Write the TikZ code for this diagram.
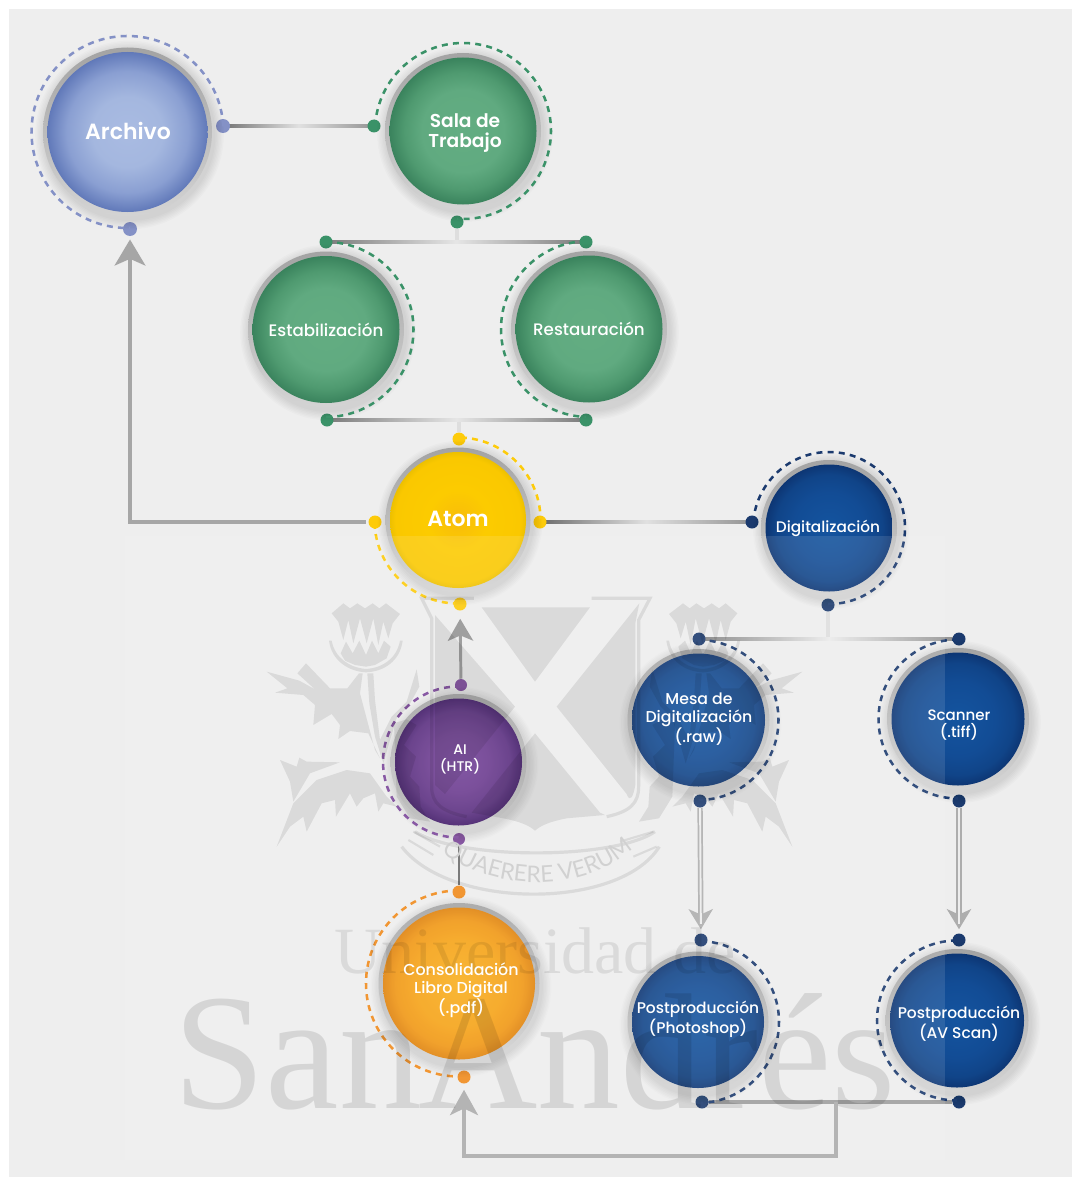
\documentclass[tikz,border=0pt]{standalone}
\usepackage{fontspec}
\setmainfont{Poppins}
\newfontfamily\pmed{Poppins Medium}
\newfontfamily\psemi{Poppins SemiBold}
\newfontfamily\serifwm{Liberation Serif}
\newfontfamily\mottof{Lato}
\usetikzlibrary{arrows.meta,calc,decorations.text}
\pgfdeclarelayer{bglayer}
\pgfdeclarelayer{connlayer}
\pgfsetlayers{bglayer,connlayer,main}
\definecolor{pagebg}{HTML}{EEEEEE}
\definecolor{archc}{HTML}{8491C6}
\definecolor{greenc}{HTML}{3A9268}
\definecolor{yelc}{HTML}{FDCB0A}
\definecolor{navyc}{HTML}{1B3A6E}
\definecolor{purc}{HTML}{7A4599}
\definecolor{orgc}{HTML}{F08A1A}
\definecolor{ga}{HTML}{A9BBE2}\definecolor{gb}{HTML}{A4B7DF}\definecolor{gc}{HTML}{8A9FD2}\definecolor{gd}{HTML}{6179B9}
\definecolor{va}{HTML}{63AD82}\definecolor{vb}{HTML}{60AA80}\definecolor{vc}{HTML}{4F9A70}\definecolor{vd}{HTML}{3A835D}
\definecolor{ya}{HTML}{F8BC0A}\definecolor{yb}{HTML}{FCCB00}\definecolor{yc}{HTML}{FAC800}\definecolor{yd}{HTML}{EDC000}
\definecolor{ba}{HTML}{14549F}\definecolor{bb}{HTML}{124C95}\definecolor{bc}{HTML}{104488}\definecolor{bd}{HTML}{0D3674}
\definecolor{pa}{HTML}{74429A}\definecolor{pb}{HTML}{6A3A8E}\definecolor{pc}{HTML}{5A2E80}\definecolor{pd}{HTML}{411A68}
\definecolor{oa}{HTML}{F9AE1C}\definecolor{ob}{HTML}{F6A316}\definecolor{oc}{HTML}{F09612}\definecolor{od}{HTML}{DF820C}
\pgfdeclareradialshading{sharch}{\pgfpoint{0bp}{0bp}}{color(0bp)=(ga);color(11bp)=(gb);color(19bp)=(gc);color(25bp)=(gd);color(50bp)=(gd)}
\pgfdeclareradialshading{shgreen}{\pgfpoint{0bp}{0bp}}{color(0bp)=(va);color(14bp)=(vb);color(20bp)=(vc);color(25bp)=(vd);color(50bp)=(vd)}
\pgfdeclareradialshading{shyel}{\pgfpoint{0bp}{0bp}}{color(0bp)=(ya);color(11bp)=(yb);color(23bp)=(yc);color(25bp)=(yd);color(50bp)=(yd)}
\pgfdeclareradialshading{shblue}{\pgfpoint{0bp}{0bp}}{color(0bp)=(ba);color(14bp)=(bb);color(21bp)=(bc);color(25bp)=(bd);color(50bp)=(bd)}
\pgfdeclareradialshading{shpur}{\pgfpoint{0bp}{0bp}}{color(0bp)=(pa);color(12bp)=(pb);color(20bp)=(pc);color(25bp)=(pd);color(50bp)=(pd)}
\pgfdeclareradialshading{shorg}{\pgfpoint{0bp}{0bp}}{color(0bp)=(oa);color(14bp)=(ob);color(21bp)=(oc);color(25bp)=(od);color(50bp)=(od)}
\tikzset{
  dotn/.style={circle,inner sep=0pt,minimum size=#1*0.75pt},
  dashline/.style={line width=1.9pt,dash pattern=on 4.5pt off 3.9pt},
  conn/.style={line width=2.5pt,color=black!38},
  stem/.style={line width=2.4pt,color=black!13},
  wm/.style={fill=black,fill opacity=.085},
  wmline/.style={black,opacity=.085},
  lbl/.style={text=white,inner sep=0pt,align=center},
}
% name, x, y, R, shading
\newcommand{\ballnode}[5]{%
  \foreach \k in {1,...,7}{\fill[black,opacity=.014] ({#2+2},{#3+3}) circle[radius={#4+\k*1.4}];}
  \shade[top color=black!36,bottom color=black!17] (#2,#3) circle[radius=#4];
  \node[circle,inner sep=0pt,minimum size=(#4-4.5)*1.5pt,shade,shading=#5] (#1) at (#2,#3) {};
}
% colour, cx, cy, r, start, end
\newcommand{\darc}[6]{\draw[dashline,color=#1] ({#2+#4*cos(#5)},{#3+#4*sin(#5)}) arc[start angle=#5,end angle=#6,radius=#4];}
% gradient bar: a, b, half-height, left, middle, right
\newcommand{\gbar}[6]{%
  \draw[conn] (#1.center) -- (#2.center);
  \shade[left color=#4,right color=#6,middle color=#5] ($(#1.center)+(0,-#3)$) rectangle ($(#2.center)+(0,#3)$);
}
\newcommand{\thistleshape}{%
  \fill[wm] (215,70)--(250,40)--(270,55)--(292,40)--(315,55)--(338,40)--(358,55)--(378,40)--(420,72)--(398,100)--(385,145)--(370,95)--(355,165)--(340,85)--(320,160)--(300,85)--(280,160)--(265,90)--(250,150)--(235,95)--cycle;
  \fill[wm] (242,190)--(258,155)--(278,190)--(298,152)--(318,195)--(336,152)--(355,190)--(372,152)--(392,170)--(380,205)--(345,225)--(318,230)--(285,225)--(255,212)--cycle;
  \fill[wm] (207,152) .. controls (215,215) and (270,245) .. (318,247) .. controls (370,245) and (420,215) .. (428,152) -- (420,152) .. controls (410,205) and (370,233) .. (318,237) .. controls (270,233) and (225,205) .. (215,152) -- cycle;
  \fill[wm] (20,245)--(118,272)--(165,298)--(112,250)--(138,220)--(210,295)--(262,295)--(297,250)--(308,250)--(300,310)--(345,480)--(360,505)--(325,430)--(270,423)--(235,447)--(240,405)--(215,372)--(160,405)--(165,345)--(130,315)--(45,308)--(82,295)--cycle;
  \fill[wm] (322,250)--(340,250)--(345,330)--(360,450)--(395,380)--(440,335)--(470,238)--(478,290)--(445,350)--(410,385)--(390,450)--(370,520)--(345,440)--(328,340)--cycle;
  \fill[wm] (60,510)--(110,530)--(118,503)--(140,515)--(240,517)--(150,550)--(100,635)--(90,575)--cycle;
  \fill[wm] (50,770)--(100,640)--(170,570)--(260,540)--(330,550)--(380,620)--(410,650)--(370,640)--(355,665)--(345,610)--(310,625)--(290,650)--(270,610)--(228,680)--(225,630)--(185,640)--(140,725)--(130,680)--(90,710)--cycle;
  \fill[wm] (402,400)--(440,388)--(470,405)--(432,465)--(468,500)--(450,560)--(478,590)--(482,650)--(510,695)--(450,685)--(410,620)--cycle;
}
\begin{document}
\begin{tikzpicture}[x=0.75pt,y=-0.75pt]
\useasboundingbox (0,0) rectangle (1072,1177);
\begin{pgfonlayer}{bglayer}
\fill[white] (0,0) rectangle (1072,1177);
\fill[pagebg] (9,9) rectangle (1072,1177);
\end{pgfonlayer}

% ---------- dots ----------
\node[dotn=14,fill=archc] (arE) at (223,126) {};
\node[dotn=14,fill=archc] (arS) at (130,229) {};
\node[dotn=13,fill=greenc] (saW) at (374,126) {};
\node[dotn=13,fill=greenc] (saS) at (457,222) {};
\node[dotn=13,fill=greenc] (esN) at (326,242) {};
\node[dotn=13,fill=greenc] (esS) at (327,420) {};
\node[dotn=13,fill=greenc] (reN) at (586,242) {};
\node[dotn=13,fill=greenc] (reS) at (586,420) {};
\node[dotn=13,fill=yelc] (atN) at (459,439) {};
\node[dotn=13,fill=yelc] (atE) at (540,522) {};
\node[dotn=13,fill=yelc] (atW) at (375,522) {};
\node[dotn=13,fill=yelc] (atS) at (460,604) {};
\node[dotn=13,fill=navyc] (diW) at (752,522) {};
\node[dotn=13,fill=navyc] (diS) at (828,605) {};
\node[dotn=13,fill=navyc] (meN) at (699,639) {};
\node[dotn=13,fill=navyc] (meS) at (700,801) {};
\node[dotn=13,fill=navyc] (scN) at (959,639) {};
\node[dotn=13,fill=navyc] (scS) at (959,801) {};
\node[dotn=12,fill=purc] (aiN) at (461,685) {};
\node[dotn=12,fill=purc] (aiS) at (459,839) {};
\node[dotn=13,fill=orgc] (coN) at (459,892) {};
\node[dotn=13,fill=orgc] (coS) at (464,1077) {};
\node[dotn=13,fill=navyc] (phN) at (701,940) {};
\node[dotn=13,fill=navyc] (phS) at (702,1102) {};
\node[dotn=13,fill=navyc] (avN) at (959,940) {};
\node[dotn=13,fill=navyc] (avS) at (959,1102) {};
\coordinate (bSa) at (457,242);
\coordinate (bAt) at (459,420);
\coordinate (bDi) at (828,639);
\coordinate (br) at (836,1102);
\coordinate (brD) at (836,1156);

% ---------- connectors ----------
\begin{pgfonlayer}{connlayer}
\gbar{arE}{saW}{1.4pt}{black!55}{black!12}{black!42}
\draw[stem] (saS) -- (bSa);
\gbar{esN}{reN}{1.3pt}{black!52}{black!10}{black!52}
\draw[stem] (atN) -- (bAt);
\gbar{esS}{reS}{1.3pt}{black!52}{black!10}{black!52}
\draw[line width=3pt,color=black!35,-{Stealth[length=19.5pt,width=23pt,inset=5pt]},shorten <=2pt,shorten >=2.4pt] (atW) -| (arS);
\gbar{atE}{diW}{1.2pt}{black!58}{black!12}{black!42}
\draw[line width=2.2pt,color=black!42,-{Stealth[length=16.5pt,width=19pt,inset=4pt]},shorten >=6pt] (aiN) -- (atS);
\draw[line width=2.2pt,color=black!58] (aiS) -- (coN);
\draw[stem] (diS) -- (bDi);
\gbar{meN}{scN}{1.3pt}{black!50}{black!8}{black!45}
\foreach \a/\b in {meS/phN,scS/avN}{
  \draw[line width=4pt,color=black!32,-{Stealth[length=15pt,width=18pt,inset=4pt]},shorten >=3pt] (\a) -- (\b);
  \draw[line width=1.4pt,color=black!7,shorten >=7pt] (\a) -- (\b);
}
\draw[line width=2.6pt,color=black!38] (phS) -- (avS);
\draw[line width=2.6pt,color=black!33,-{Stealth[length=19pt,width=21pt,inset=5pt]},shorten >=4.5pt] (br) -- (brD) -| (coS);
\end{pgfonlayer}

% ---------- balls ----------
\ballnode{archivo}{127.5}{132}{84.5}{sharch}
\ballnode{sala}{463}{131}{78}{shgreen}
\ballnode{estab}{326}{329.5}{78}{shgreen}
\ballnode{resta}{589}{329}{78}{shgreen}
\ballnode{atom}{458}{520}{72.5}{shyel}
\ballnode{digit}{829}{528}{68}{shblue}
\ballnode{mesa}{698.5}{720}{71}{shblue}
\ballnode{scanner}{958}{719}{71}{shblue}
\ballnode{ai}{458.5}{762}{68}{shpur}
\ballnode{conso}{459}{983.5}{80.5}{shorg}
\ballnode{photo}{698}{1022}{70.5}{shblue}
\ballnode{avscan}{957}{1020.5}{71.5}{shblue}

% ---------- dashed arcs ----------
\darc{archc}{127.5}{132}{96}{-3.6}{-271.5}
\darc{greenc}{463}{131}{88}{183.2}{453.8}
\darc{greenc}{326}{329.5}{87.5}{-90}{90}
\darc{greenc}{589}{329}{88}{-92}{-268}
\darc{yelc}{458}{520}{82.5}{-88}{-1}
\darc{yelc}{458}{520}{83.5}{178}{92}
\darc{navyc}{829}{528}{76}{184.5}{450.7}
\darc{navyc}{698.5}{720}{80}{-90}{90}
\darc{navyc}{958}{719}{79.5}{-90}{-270}
\darc{purc}{458.5}{762}{75.5}{-88}{-270}
\darc{orgc}{459}{983.5}{93}{-90}{-267}
\darc{navyc}{698}{1022}{81}{-88}{88}
\darc{navyc}{957}{1020.5}{80}{-90}{-270}

% ---------- watermark ----------
\fill[white,opacity=.11] (125,536) rectangle (945,1160);
\begin{scope}[shift={(260,590)},scale=0.3333]\thistleshape\end{scope}
\begin{scope}[shift={(809,590)},xscale=-0.3333,yscale=0.3333]\thistleshape\end{scope}
\begin{scope}[shift={(400,590)},scale=0.3333]
  \fill[wm] (245,52)--(570,52)--(405,275)--cycle;
  \fill[wm] (718,40)--(706,100)--(706,585) .. controls (700,620) and (690,640) .. (680,612)--(470,350)--cycle;
  \fill[wm] (405,430)--(600,668)--(615,675)--(500,685) .. controls (450,695) and (425,705) .. (405,722) .. controls (385,705) and (360,695) .. (310,685)--(215,668)--cycle;
  \fill[wm] (105,75)--(345,350)--(135,612)--(105,585)--cycle;
  \draw[line width=2.4pt,wmline] (222,25)--(65,25)--(95,85)--(95,590) .. controls (95,640) and (125,665) .. (200,680);
  \draw[line width=2.4pt,wmline] (575,25)--(750,25)--(716,90)--(716,590) .. controls (716,640) and (690,665) .. (620,680);
  \draw[line width=2.4pt,wmline] (5,770) .. controls (150,960) and (660,960) .. (778,770);
  \draw[line width=2.4pt,wmline] (45,725) .. controls (180,810) and (640,810) .. (765,725);
  \draw[line width=1.6pt,wmline] (25,750)--(100,795) (40,725)--(120,770) (660,755)--(760,725) (700,800)--(770,770);
\end{scope}
\path[decorate,decoration={text along path,text align=center,text color=black!18,
  text={|\mottof\fontsize{17.2pt}{20pt}\selectfont|QUAERERE VERUM}}]
  (436,848) .. controls (490,893) and (585,896) .. (638,844);
\node[inner sep=0pt,text=black,text opacity=.085,font=\serifwm\fontsize{49.5pt}{51pt}\selectfont] (wmU) at (535,951) {Universidad de};
\node[inner sep=0pt,text=black,text opacity=.105,font=\serifwm\fontsize{124pt}{124pt}\selectfont] (wmS) at (535,1052) {San\hspace{-.02em}Andrés};

% ---------- labels ----------
\node[lbl,font=\psemi\fontsize{16.5pt}{20pt}\selectfont] (tArch) at (128,131) {Archivo};
\node[lbl,font=\psemi\fontsize{14pt}{15pt}\selectfont] (tSala) at (465,133) {Sala de\\Trabajo};
\node[lbl,font=\pmed\fontsize{12.5pt}{15pt}\selectfont] (tEst) at (326,330) {Estabilización};
\node[lbl,font=\pmed\fontsize{12.5pt}{15pt}\selectfont] (tRes) at (589,329) {Restauración};
\node[lbl,font=\psemi\fontsize{16.5pt}{20pt}\selectfont] (tAtom) at (458,519) {Atom};
\node[lbl,font=\pmed\fontsize{11.5pt}{14pt}\selectfont] (tDig) at (828,528) {Digitalización};
\node[lbl,font=\pmed\fontsize{11.8pt}{13.5pt}\selectfont] (tMesa) at (699,719) {Mesa de\\Digitalización\\(.raw)};
\node[lbl,font=\pmed\fontsize{11.3pt}{13.2pt}\selectfont] (tScan) at (959,725) {Scanner\\(.tiff)};
\node[lbl,font=\pmed\fontsize{10.5pt}{12.8pt}\selectfont] (tAI) at (460,759) {AI\\(HTR)};
\node[lbl,font=\pmed\fontsize{11.9pt}{13.5pt}\selectfont] (tCons) at (461,990) {Consolidación\\Libro Digital\\(.pdf)};
\node[lbl,font=\pmed\fontsize{11.6pt}{13pt}\selectfont] (tPh) at (698,1019) {Postproducción\\(Photoshop)};
\node[lbl,font=\pmed\fontsize{11.6pt}{13pt}\selectfont] (tAv) at (959,1024) {Postproducción\\(AV Scan)};
\end{tikzpicture}
\end{document}
